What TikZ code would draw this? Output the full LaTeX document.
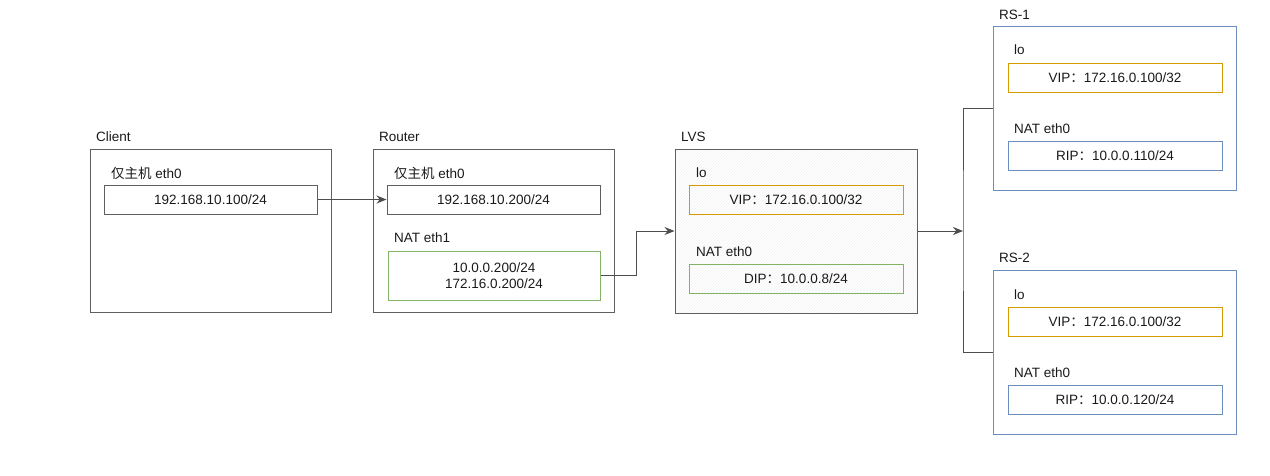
\documentclass[tikz,border=0pt]{standalone}
\usepackage{fontspec}
\setmainfont{Liberation Sans}
\newfontfamily\cjk{Noto Sans CJK SC}
\usepackage{tikz}
\usetikzlibrary{
  arrows.meta,
  patterns,
  positioning
}
\definecolor{hostgray}{HTML}{5F5F5F}
\definecolor{vipyellow}{HTML}{D79B00}
\definecolor{natgreen}{HTML}{82B366}
\definecolor{ripblue}{HTML}{6C8EBF}
\definecolor{wiregray}{HTML}{4D4D4D}
\tikzset{
  host/.style={draw=hostgray, line width=1pt, minimum width=241pt, minimum height=163pt, inner sep=0pt},
  server/.style={host, draw=ripblue, minimum width=243pt, minimum height=164pt},
  nic/.style={draw=hostgray, line width=1pt, minimum width=213pt, minimum height=29pt, inner sep=0pt, align=center},
  vipnic/.style={nic, draw=vipyellow, minimum width=214pt},
  natnic/.style={nic, draw=natgreen},
  ripnic/.style={nic, draw=ripblue, minimum width=214pt},
  tag/.style={anchor=west, inner sep=0pt},
  wire/.style={draw=wiregray, line width=1pt},
  link/.style={wire, -{Stealth[length=10pt, width=8pt]}},
}
\newcommand{\fw}{{\cjk ：}}

\begin{document}
\begin{tikzpicture}[x=1pt, y=-1pt, font=\fontsize{13.5}{16}\selectfont, text=black!90]
\useasboundingbox (0,0) rectangle (1270,475);

% --- Client ---
\node[host] (cli) at (210.5,230.5) {};
\node[tag] (clitag) at (96,137) {Client};
\node[tag] (cli0tag) at (111,173) {{\cjk 仅主机} eth0};
\node[nic] (cli0) at (210.5,199.5) {192.168.10.100/24};

% --- Router ---
\node[host] (rt) at (493.5,230.5) {};
\node[tag] (rttag) at (379,137) {Router};
\node[tag] (rt0tag) at (394,173) {{\cjk 仅主机} eth0};
\node[nic] (rt0) at (493.5,199.5) {192.168.10.200/24};
\node[tag] (rt1tag) at (394,238) {NAT eth1};
\node[natnic, minimum width=212pt, minimum height=49pt] (rt1) at (494,275.5) {10.0.0.200/24\\172.16.0.200/24};

% --- LVS (director) ---
\node[host, minimum width=242pt, minimum height=164pt,
      pattern=north east lines, pattern color=black!6] (lvs) at (796,231) {};
\node[tag] (lvstag) at (681,137) {LVS};
\node[tag] (lvsvtag) at (696,173) {lo};
\node[vipnic] (lvsv) at (796,199.5) {VIP\fw 172.16.0.100/32};
\node[tag] (lvsdtag) at (696,252) {NAT eth0};
\node[natnic, minimum width=214pt] (lvsd) at (796,278.5) {DIP\fw 10.0.0.8/24};

% --- RS-1 ---
\node[server] (rs1) at (1114.5,108) {};
\node[tag] (rs1tag) at (999,15) {RS-1};
\node[tag] (rs1vtag) at (1014,50) {lo};
\node[vipnic] (rs1v) at (1115,77.5) {VIP\fw 172.16.0.100/32};
\node[tag] (rs1rtag) at (1014,129) {NAT eth0};
\node[ripnic] (rs1r) at (1115,155.5) {RIP\fw 10.0.0.110/24};

% --- RS-2 ---
\node[server] (rs2) at (1114.5,352) {};
\node[tag] (rs2tag) at (999,258) {RS-2};
\node[tag] (rs2vtag) at (1014,295) {lo};
\node[vipnic] (rs2v) at (1115,321.5) {VIP\fw 172.16.0.100/32};
\node[tag] (rs2rtag) at (1014,373) {NAT eth0};
\node[ripnic] (rs2r) at (1115,399.5) {RIP\fw 10.0.0.120/24};

% connectors
\coordinate (split) at (963,231);
\draw[link] (cli0.east) -- (rt0.west);
\draw[link] (rt1.east) -- ++(36,0) |- (lvs.west);
\draw[link] (lvs.east) -- (split);
\draw[wire] (rs1.west) -| (split) |- (rs2.west);
\end{tikzpicture}
\end{document}
